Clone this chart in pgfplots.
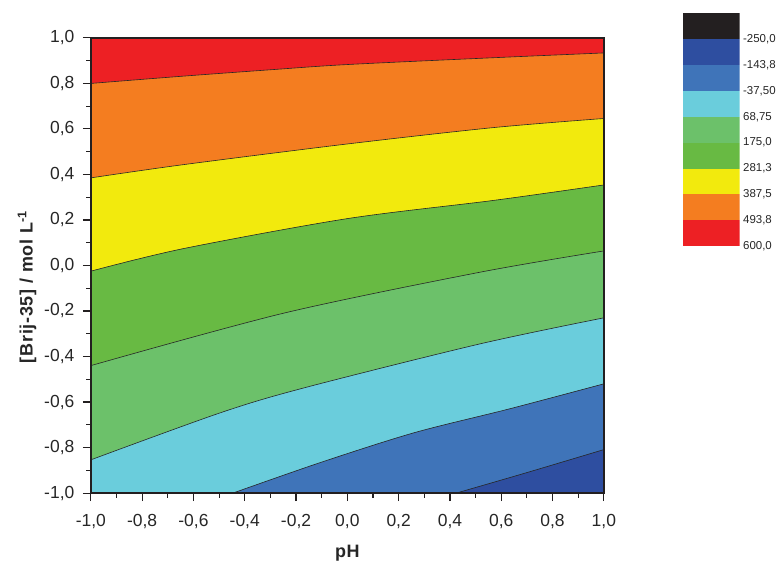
\documentclass[border=0pt]{standalone}
\usepackage{pgfplots}
\pgfplotsset{compat=1.18}
\usepgfplotslibrary{fillbetween}
\usepackage{fontspec}
\setmainfont{Liberation Sans}
\newfontfamily\labelfont[LetterSpace=4]{Liberation Sans}

\definecolor{lvBlack}{RGB}{35,31,32}
\definecolor{lvDarkBlue}{RGB}{46,78,160}
\definecolor{lvBlue}{RGB}{63,116,185}
\definecolor{lvCyan}{RGB}{106,205,220}
\definecolor{lvLightGreen}{RGB}{108,193,106}
\definecolor{lvGreen}{RGB}{104,186,67}
\definecolor{lvYellow}{RGB}{242,234,13}
\definecolor{lvOrange}{RGB}{244,125,32}
\definecolor{lvRed}{RGB}{237,32,36}
\definecolor{frame}{RGB}{35,31,32}

\begin{document}
\begin{tikzpicture}

% contour map: each level is filled from its isoline down to the bottom edge
\begin{axis}[
  at={(0pt,0pt)}, anchor=south west,
  scale only axis, width=514pt, height=456pt,
  xmin=-1, xmax=1, ymin=-1, ymax=1,
  xtick={-1,-0.8,-0.6,-0.4,-0.2,0,0.2,0.4,0.6,0.8,1},
  ytick={-1,-0.8,-0.6,-0.4,-0.2,0,0.2,0.4,0.6,0.8,1},
  minor x tick num=1, minor y tick num=1,
  tick pos=left, tick align=outside,
  major tick length=8pt, minor tick length=4.5pt,
  every tick/.style={line width=1.1pt, color=frame},
  axis line style={line width=1.5pt, color=frame},
  axis on top,
  tick label style={font=\fontsize{17.5}{17.5}\selectfont, color=black!85},
  xticklabel style={yshift=-10pt},
  yticklabel style={xshift=-5pt},
  /pgf/number format/.cd, use comma, fixed, fixed zerofill, precision=1, assume math mode=true,
  /pgfplots/.cd,
  xlabel={\bfseries pH},
  ylabel={\bfseries [Brij-35] / mol L\textsuperscript{-1}},
  every axis x label/.style={at={(axis description cs:0.5,-0.132)}, anchor=center, font=\labelfont\fontsize{18}{18}\selectfont, color=black!85},
  every axis y label/.style={at={(axis description cs:-0.1245,0.453)}, anchor=center, rotate=90, font=\labelfont\fontsize{18}{18}\selectfont, color=black!85},
  iso/.style={black!85, line width=0.6pt, smooth},
]
\addplot[draw=none, name path=bot] coordinates {(-1,-1)(1,-1)};
\addplot[draw=none, name path=top] coordinates {(-1,1)(1,1)};

% isolines, from level 493,8 down to -143,8
\addplot[iso, name path=A] coordinates {(-1,0.80)(-0.64,0.832)(-0.3,0.86)(0,0.883)(0.57,0.913)(1,0.934)};
\addplot[iso, name path=B] coordinates {(-1,0.385)(-0.64,0.443)(0,0.534)(0.57,0.606)(1,0.646)};
\addplot[iso, name path=C] coordinates {(-1,-0.025)(-0.64,0.074)(0,0.206)(0.57,0.286)(1,0.354)};
\addplot[iso, name path=D] coordinates {(-1,-0.44)(-0.25,-0.21)(0.515,-0.03)(1,0.064)};
\addplot[iso, name path=E] coordinates {(-1,-0.854)(-0.497,-0.648)(-0.173,-0.539)(0.515,-0.345)(1,-0.23)};
\addplot[iso, name path=F] coordinates {(-0.446,-1)(-0.108,-0.867)(0.26,-0.735)(0.632,-0.63)(1,-0.52)};
\addplot[iso, name path=G] coordinates {(0.425,-1)(0.7,-0.91)(1,-0.809)};

% level fills (fill between draws them beneath the isolines)
\addplot[lvRed] fill between[of=top and bot];
\addplot[lvOrange] fill between[of=A and bot];
\addplot[lvYellow] fill between[of=B and bot];
\addplot[lvGreen] fill between[of=C and bot];
\addplot[lvLightGreen] fill between[of=D and bot];
\addplot[lvCyan] fill between[of=E and bot];
\addplot[lvBlue] fill between[of=F and bot];
\addplot[lvDarkBlue] fill between[of=G and bot];
\end{axis}

% level scale
\begin{axis}[
  at={(593pt,247.3pt)}, anchor=south west,
  scale only axis, width=57pt, height=233.4pt,
  xmin=0, xmax=1, ymin=-356.25, ymax=600, y dir=reverse,
  axis line style={draw=none},
  xtick=\empty,
  ytick={-250,-143.75,-37.5,68.75,175,281.25,387.5,493.75,600},
  yticklabels={{-250,0},{-143,8},{-37,50},{68,75},{175,0},{281,3},{387,5},{493,8},{600,0}},
  yticklabel pos=right,
  major tick length=0pt, tick style={draw=none},
  tick label style={font=\fontsize{11.5}{11.5}\selectfont, color=black!85},
]
\addplot[fill=lvBlack, draw=none] coordinates {(0,-356.25)(1,-356.25)(1,-250)(0,-250)} -- cycle;
\addplot[fill=lvDarkBlue, draw=none] coordinates {(0,-250)(1,-250)(1,-143.75)(0,-143.75)} -- cycle;
\addplot[fill=lvBlue, draw=none] coordinates {(0,-143.75)(1,-143.75)(1,-37.5)(0,-37.5)} -- cycle;
\addplot[fill=lvCyan, draw=none] coordinates {(0,-37.5)(1,-37.5)(1,68.75)(0,68.75)} -- cycle;
\addplot[fill=lvLightGreen, draw=none] coordinates {(0,68.75)(1,68.75)(1,175)(0,175)} -- cycle;
\addplot[fill=lvGreen, draw=none] coordinates {(0,175)(1,175)(1,281.25)(0,281.25)} -- cycle;
\addplot[fill=lvYellow, draw=none] coordinates {(0,281.25)(1,281.25)(1,387.5)(0,387.5)} -- cycle;
\addplot[fill=lvOrange, draw=none] coordinates {(0,387.5)(1,387.5)(1,493.75)(0,493.75)} -- cycle;
\addplot[fill=lvRed, draw=none] coordinates {(0,493.75)(1,493.75)(1,600)(0,600)} -- cycle;
\end{axis}

% page extent
\path (-91pt,-69pt) rectangle (688pt,494pt);
\end{tikzpicture}
\end{document}
